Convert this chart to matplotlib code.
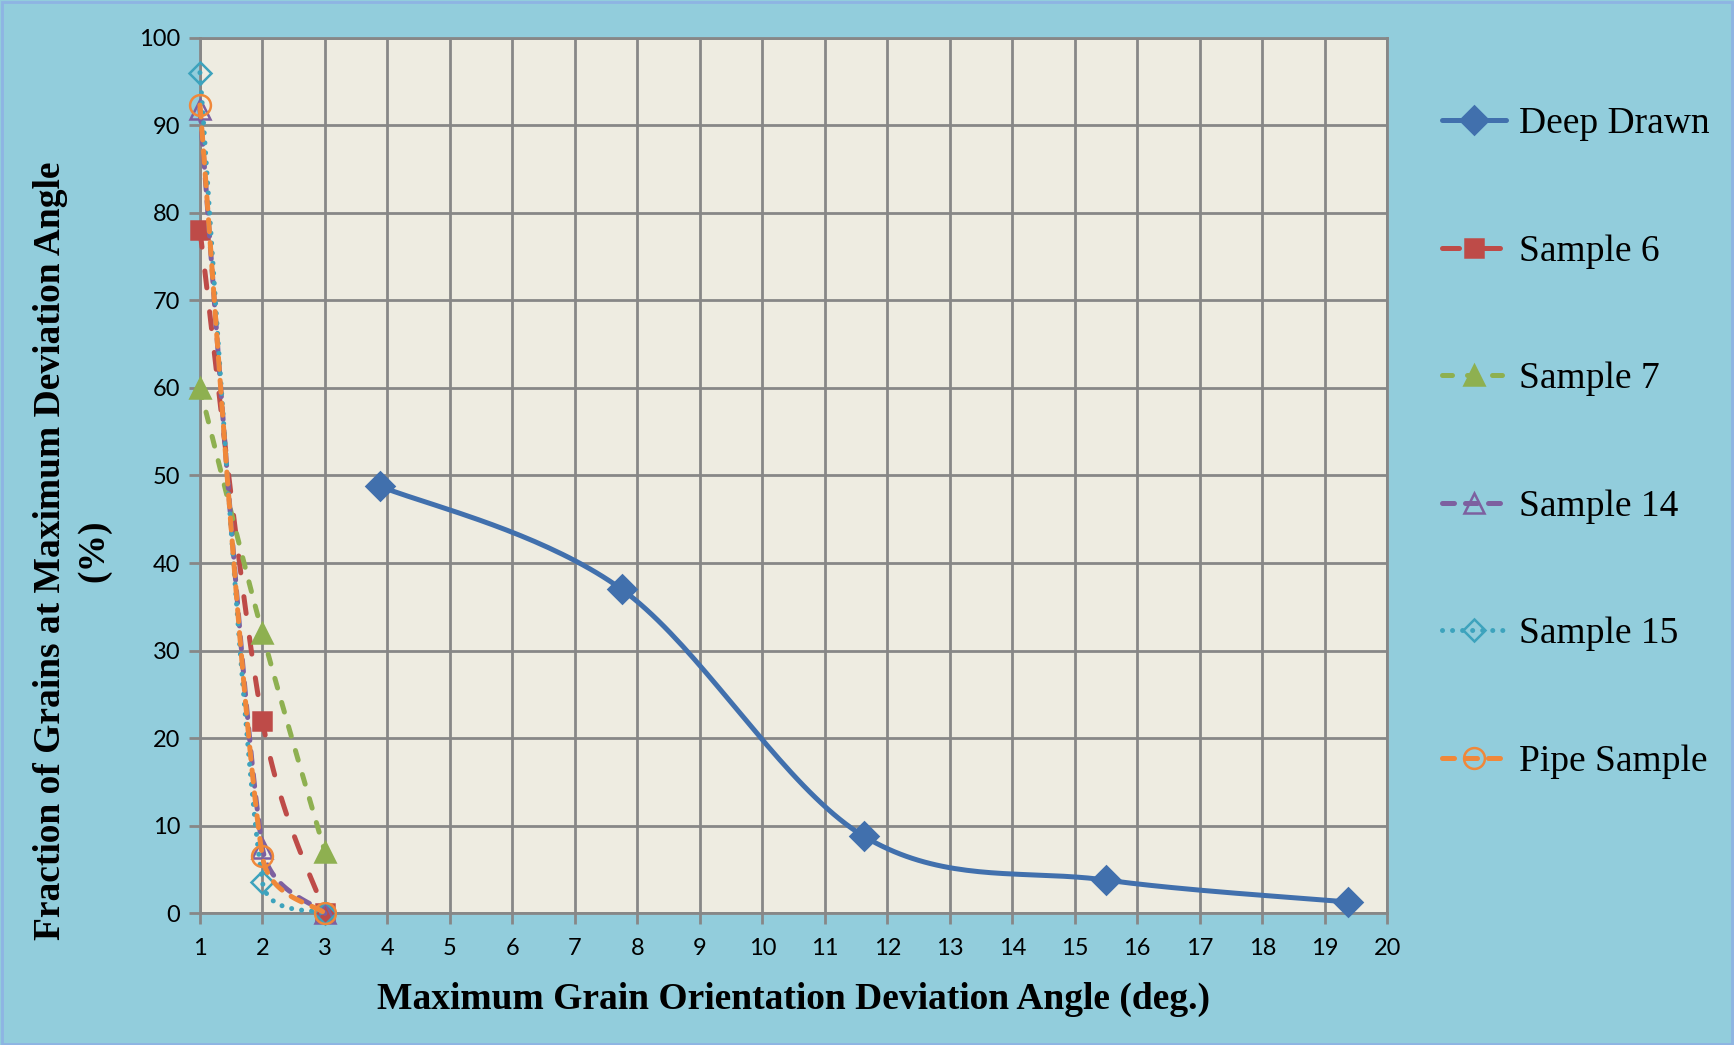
"""Grain orientation deviation chart, Excel-style smoothed lines."""

import matplotlib
matplotlib.use("Agg")
import matplotlib.pyplot as plt
import matplotlib.patches as patches
import numpy as np

# ---- data ----
deep_x = [3.875, 7.75, 11.625, 15.5, 19.375]
deep_y = [48.8, 37.0, 8.8, 3.8, 1.3]

sample_x = [1, 2, 3]
s6_y = [78.0, 22.0, 0.0]
s7_y = [60.0, 32.0, 7.0]
s14_y = [91.8, 7.5, 0.0]
s15_y = [96.0, 3.6, 0.0]
pipe_y = [92.3, 6.5, 0.0]

x_ticks = list(range(1, 21))
y_ticks = list(range(0, 101, 10))

BG = "#92CDDC"
PLOT_BG = "#EEECE1"
GRID = "#878787"

fig = plt.figure(figsize=(17.34, 10.45), dpi=100)
fig.patch.set_facecolor(BG)
fig.patches.append(patches.Rectangle((0.001, 0.001), 0.998, 0.997, transform=fig.transFigure,
                                     fill=False, edgecolor="#8EB4E3", linewidth=2))

ax = fig.add_axes([0.1153, 0.126, 0.6847, 0.838])
ax.set_facecolor(PLOT_BG)
ax.set_xlim(1, 20)
ax.set_ylim(0, 100)

W, H = 1187.0, 876.0  # approximate pixel size of plot area, used for smoothing


def smooth(xs, ys, n=40):
    """Excel-like Bezier smoothing computed in screen-proportional space."""
    p = np.column_stack([(np.asarray(xs, float) - 1) / 19 * W, np.asarray(ys, float) / 100 * H])
    out = [p[0]]
    m = len(p)
    for i in range(m - 1):
        p0 = p[i - 1] if i > 0 else p[i]
        p1, p2 = p[i], p[i + 1]
        p3 = p[i + 2] if i + 2 < m else p[i + 1]
        d12 = np.linalg.norm(p2 - p1)
        d02 = np.linalg.norm(p2 - p0)
        d13 = np.linalg.norm(p3 - p1)
        f1 = min(1 / 6, d12 / (2 * d02)) if d02 > 0 else 0
        f2 = min(1 / 6, d12 / (2 * d13)) if d13 > 0 else 0
        b1 = p1 + f1 * (p2 - p0)
        b2 = p2 - f2 * (p3 - p1)
        t = np.linspace(0, 1, n + 1)[1:, None]
        seg = (1 - t) ** 3 * p1 + 3 * (1 - t) ** 2 * t * b1 + 3 * (1 - t) * t ** 2 * b2 + t ** 3 * p2
        out.extend(seg)
    out = np.array(out)
    return out[:, 0] / W * 19 + 1, out[:, 1] / H * 100, list(range(0, n * (m - 1) + 1, n))


series = [
    ("Deep Drawn", deep_x, deep_y, "#4170AD", "-", "D", True, 14),
    ("Sample 6", sample_x, s6_y, "#BE4B48", (0, (3.4, 4.8)), "s", True, 13),
    ("Sample 7", sample_x, s7_y, "#8EB050", (0, (2.0, 3.0)), "^", True, 15),
    ("Sample 14", sample_x, s14_y, "#7D60A0", (0, (2.4, 2.2)), "^", False, 15),
    ("Sample 15", sample_x, s15_y, "#3DA3BD", (0, (0.01, 2.0)), "D", False, 11),
    ("Pipe Sample", sample_x, pipe_y, "#F0883A", (0, (2.4, 2.2)), "o", False, 15),
]

for name, xs, ys, col, ls, mk, filled, ms in series:
    sx, sy, marks = smooth(xs, ys)
    ax.plot(sx, sy, color=col, linestyle=ls, linewidth=3.6, dash_capstyle="round",
            solid_capstyle="round", marker=mk, markevery=marks, markersize=ms,
            markerfacecolor=col if filled else "none", markeredgecolor=col,
            markeredgewidth=1.8, label=name, clip_on=False, zorder=3)

ax.set_xticks(x_ticks)
ax.set_yticks(y_ticks)
ax.grid(True, color=GRID, linewidth=2)
ax.set_axisbelow(True)
for s in ax.spines.values():
    s.set_color(GRID)
    s.set_linewidth(2)
ax.tick_params(axis="both", color=GRID, width=2, length=8, direction="out",
               labelsize=17, labelcolor="black")
ax.tick_params(axis="x", pad=10)
ax.tick_params(axis="y", pad=6)
for lbl in ax.get_xticklabels() + ax.get_yticklabels():
    lbl.set_family("Lato")

ax.set_xlabel("Maximum Grain Orientation Deviation Angle (deg.)", fontfamily="Liberation Serif",
              fontweight="bold", fontsize=27, labelpad=16)

label_font = dict(fontfamily="Liberation Serif", fontweight="bold", fontsize=27,
                  rotation=90, ha="center", va="center")
fig.text(0.029, 0.473, "Fraction of Grains at Maximum Deviation Angle", **label_font)
fig.text(0.054, 0.473, "(%)", **label_font)

leg = fig.legend(loc="upper left", bbox_to_anchor=(0.812, 0.930), frameon=False,
                 prop={"family": "Liberation Serif", "size": 27}, handlelength=1.7,
                 labelspacing=2.48, numpoints=1, handletextpad=0.35)

fig.savefig("out.png", dpi=100, facecolor=BG)
